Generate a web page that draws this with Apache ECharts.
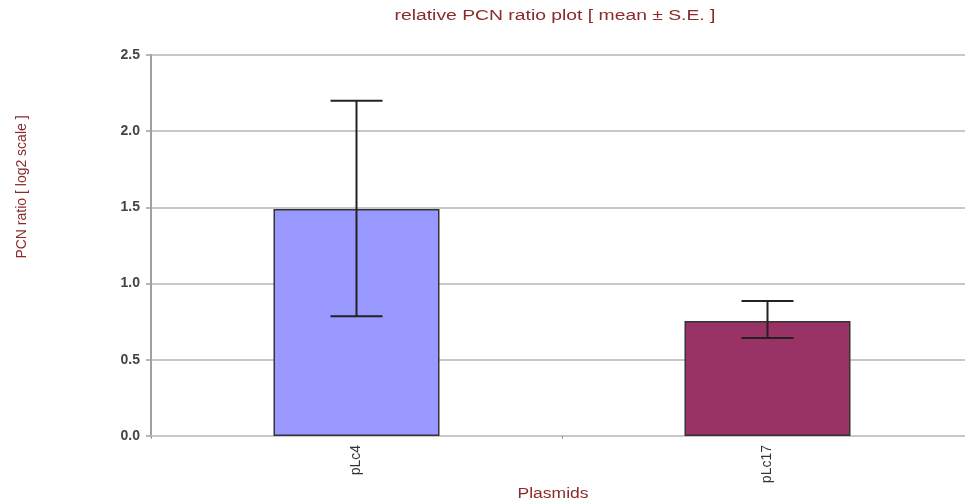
<!DOCTYPE html>
<html>
<head>
<meta charset="utf-8">
<script src="https://cdn.jsdelivr.net/npm/echarts@6/dist/echarts.min.js"></script>
<style>
  html, body { margin: 0; padding: 0; background: #fff; }
  #chart { width: 965px; height: 502px; }
</style>
</head>
<body>
<div id="chart"></div>
<script>
// 质粒类别
const plasmids = ['pLc4', 'pLc17'];
// 平均值 (log2)
const meanValues = [1.49, 0.755];
// 误差线上下限 (mean ± S.E.)
const errLow = [0.785, 0.643];
const errHigh = [2.2, 0.886];
const barColors = ['#9999FF', '#993366'];

const chart = echarts.init(document.getElementById('chart'));
const FONT = '"Liberation Sans", Arial, sans-serif';

const option = {
  animation: false,
  backgroundColor: '#ffffff',
  grid: { left: 151, width: 822, top: 55, height: 381, outerBoundsMode: 'none', containLabel: false },
  graphic: [
    {
      type: 'text', x: 555, y: 16, scaleX: 1.38,
      style: { text: 'relative PCN ratio plot [ mean ± S.E. ]', fill: '#8B2A2A',
        align: 'center', verticalAlign: 'middle', font: '14px ' + FONT }
    },
    {
      type: 'text', x: 22, y: 187, rotation: Math.PI / 2,
      style: { text: 'PCN ratio [ log2 scale ]', fill: '#8B2A2A', align: 'center', verticalAlign: 'middle',
        font: '14px ' + FONT }
    },
    {
      type: 'text', x: 553, y: 494, scaleX: 1.25,
      style: { text: 'Plasmids', fill: '#8B2A2A', align: 'center', verticalAlign: 'middle',
        font: '14px ' + FONT }
    }
  ],
  xAxis: {
    type: 'category',
    data: plasmids,
    axisLine: { show: true, lineStyle: { color: '#c8c8c8', width: 2 } },
    axisTick: { show: true, length: 3, lineStyle: { color: '#999' } },
    axisLabel: { rotate: 90, margin: 9, color: '#333', fontFamily: FONT, fontSize: 14 },
    splitLine: { show: false }
  },
  yAxis: {
    type: 'value',
    min: 0, max: 2.5, interval: 0.5,
    axisLine: { show: true, lineStyle: { color: '#a0a0a0', width: 2 } },
    axisTick: { show: true, length: 5, lineStyle: { color: '#a0a0a0', width: 1.5 } },
    axisLabel: {
      margin: 11, color: '#444', fontWeight: 'bold', fontFamily: FONT, fontSize: 14,
      formatter: v => v.toFixed(1)
    },
    splitLine: { show: true, lineStyle: { color: '#c8c8c8', width: 2 } }
  },
  series: [
    {
      type: 'bar',
      barWidth: 166,
      data: meanValues.map((v, i) => ({
        value: v,
        itemStyle: { color: barColors[i], borderColor: '#333', borderWidth: 1.5 }
      }))
    },
    {
      type: 'custom',
      data: plasmids.map((p, i) => [i, errLow[i], errHigh[i]]),
      z: 10,
      renderItem: function (params, api) {
        const i = api.value(0);
        const lo = api.coord([i, api.value(1)]);
        const hi = api.coord([i, api.value(2)]);
        const half = 26;
        const st = { stroke: '#222', lineWidth: 2 };
        return {
          type: 'group',
          children: [
            { type: 'line', shape: { x1: lo[0], y1: lo[1], x2: hi[0], y2: hi[1] }, style: st },
            { type: 'line', shape: { x1: hi[0] - half, y1: hi[1], x2: hi[0] + half, y2: hi[1] }, style: st },
            { type: 'line', shape: { x1: lo[0] - half, y1: lo[1], x2: lo[0] + half, y2: lo[1] }, style: st }
          ]
        };
      }
    }
  ]
};

chart.setOption(option);
</script>
</body>
</html>
